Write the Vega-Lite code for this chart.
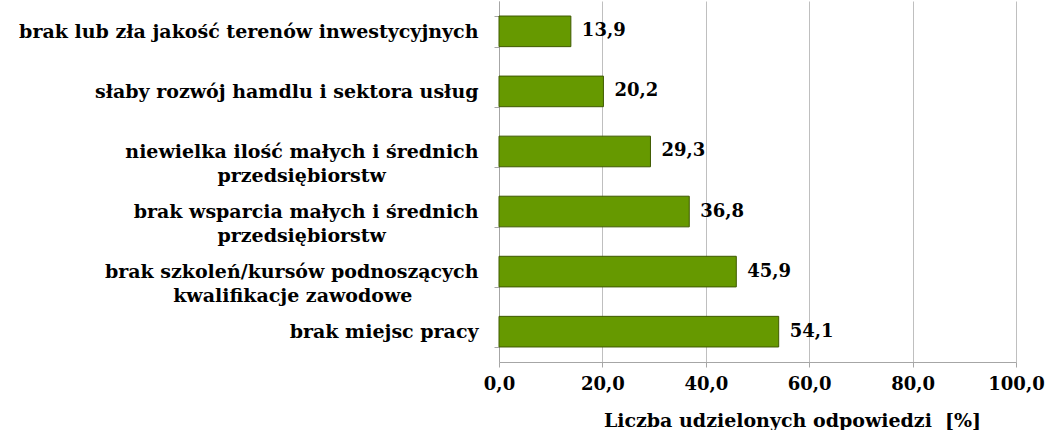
{
  "$schema": "https://vega.github.io/schema/vega-lite/v6.json",
  "width": 517,
  "height": 361,
  "autosize": {"type": "none"},
  "padding": {"left": 499, "top": 1, "right": 29, "bottom": 68},
  "background": "white",
  "config": {
    "view": {"stroke": null},
    "locale": {"number": {"decimal": ",", "thousands": " ", "grouping": [3], "currency": ["", " zł"]}},
    "font": "DejaVu Serif"
  },
  "data": {
    "values": [
      {"problem": "brak lub zła jakość terenów inwestycyjnych", "value": 13.9},
      {"problem": "słaby rozwój hamdlu i sektora usług", "value": 20.2},
      {"problem": "niewielka ilość małych i średnich|przedsiębiorstw", "value": 29.3},
      {"problem": "brak wsparcia małych i średnich|przedsiębiorstw", "value": 36.8},
      {"problem": "brak szkoleń/kursów podnoszących|kwalifikacje zawodowe", "value": 45.9},
      {"problem": "brak miejsc pracy", "value": 54.1}
    ]
  },
  "encoding": {
    "y": {
      "field": "problem",
      "type": "nominal",
      "sort": null,
      "scale": {"paddingInner": 0.49, "paddingOuter": 0.25},
      "axis": {
        "title": null,
        "labelExpr": "length(split(datum.label,'|')) > 1 ? [split(datum.label,'|')[0], pad(split(datum.label,'|')[1], length(split(datum.label,'|')[1]) + round(0.35 * (length(split(datum.label,'|')[0]) - length(split(datum.label,'|')[1])) + 1), '\u2007') + '\u2060'] : datum.label",
        "labelFont": "DejaVu Serif",
        "labelFontWeight": "bold",
        "labelFontSize": 19,
        "labelColor": "#000000",
        "labelAlign": "right",
        "labelPadding": 16,
        "labelLimit": 600,
        "labelLineHeight": 24,
        "tickBand": "extent",
        "tickSize": 5,
        "tickColor": "#A6A6A6",
        "domainColor": "#A6A6A6",
        "grid": false
      }
    },
    "x": {
      "field": "value",
      "type": "quantitative",
      "scale": {"domain": [0, 100], "nice": false},
      "axis": {
        "title": "Liczba udzielonych odpowiedzi\u00a0 [%]",
        "values": [0, 20, 40, 60, 80, 100],
        "format": ".1f",
        "labelFont": "DejaVu Serif",
        "labelFontWeight": "bold",
        "labelFontSize": 18,
        "labelColor": "#000000",
        "labelPadding": 8,
        "labelFlush": false,
        "tickSize": 5,
        "tickColor": "#A6A6A6",
        "domainColor": "#A6A6A6",
        "gridColor": "#BFBFBF",
        "titleFont": "DejaVu Serif",
        "titleFontWeight": "bold",
        "titleFontSize": 19,
        "titleColor": "#000000",
        "titlePadding": 18,
        "titleX": 293
      }
    }
  },
  "layer": [
    {"mark": {"type": "bar", "fill": "#669900", "stroke": "#3F5A00", "strokeWidth": 1}},
    {
      "mark": {"type": "text", "align": "left", "baseline": "middle", "dx": 11, "font": "DejaVu Serif", "fontWeight": "bold", "fontSize": 18, "color": "#000000"},
      "encoding": {"text": {"field": "value", "type": "quantitative", "format": ".1f"}}
    }
  ]
}
